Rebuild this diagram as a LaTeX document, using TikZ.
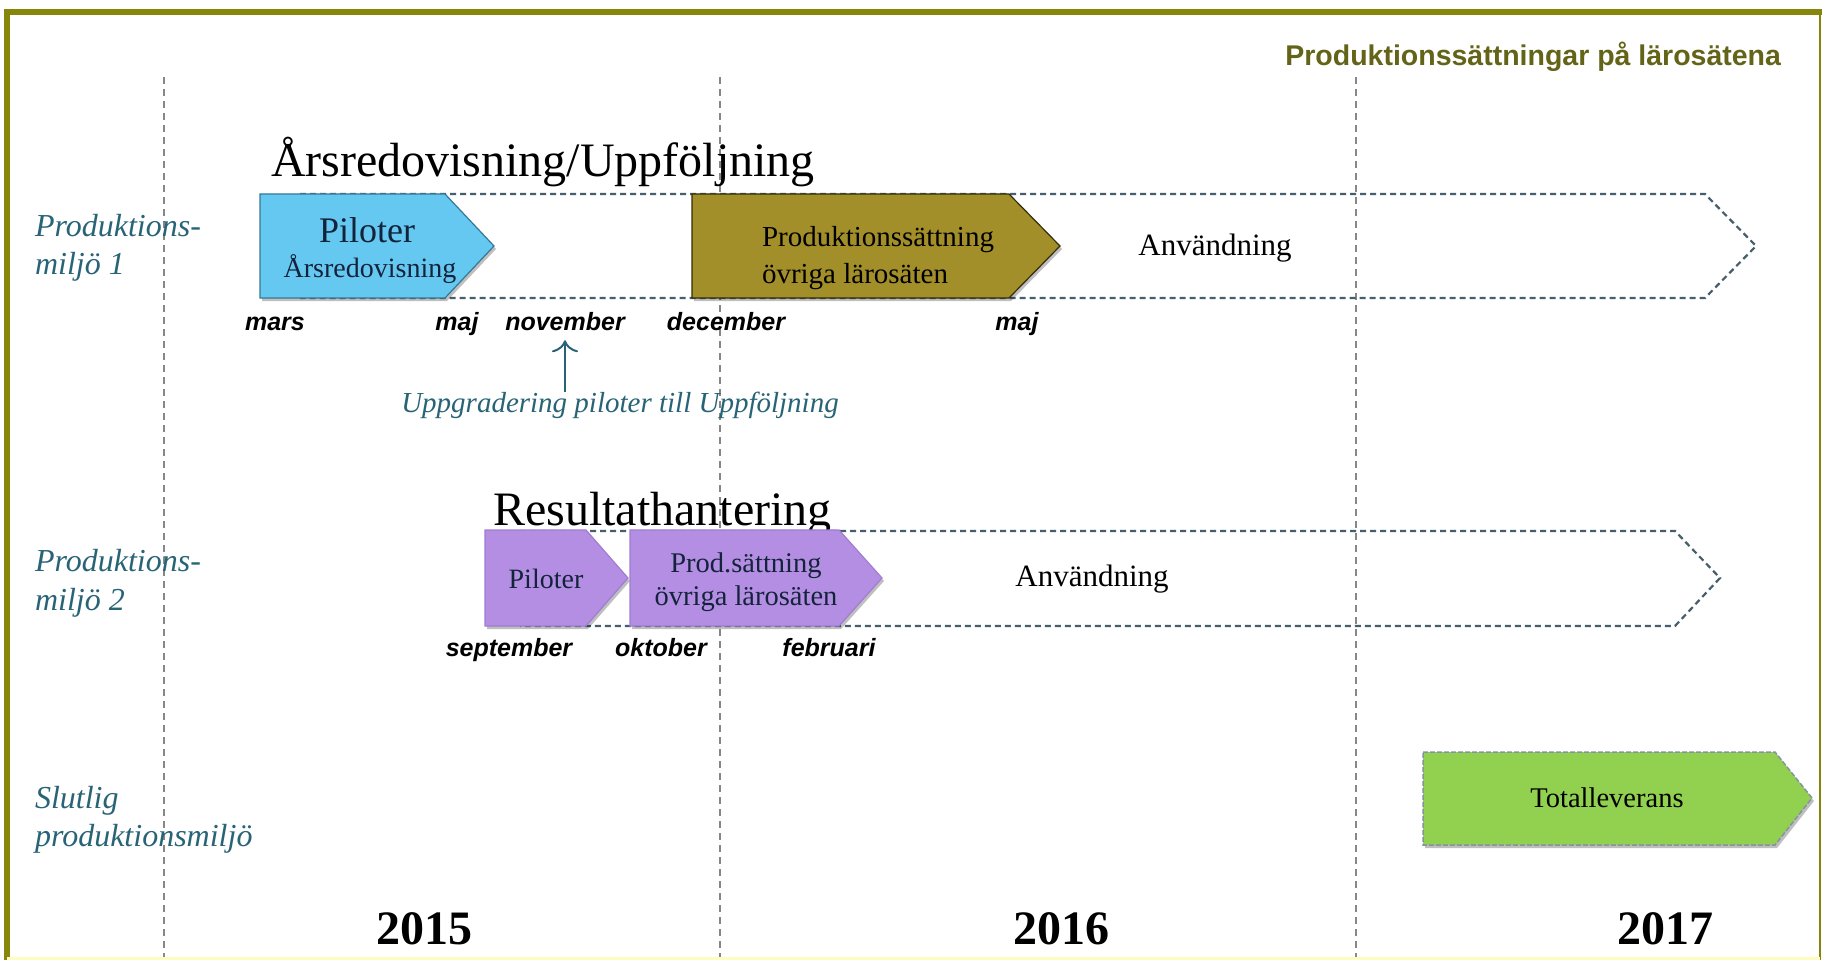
\documentclass[tikz,border=0pt]{standalone}
\usepackage{fontspec}
\setmainfont{Liberation Serif}
\newfontfamily\arial{Liberation Sans}
\usetikzlibrary{shadows,arrows.meta}

\definecolor{frameolive}{RGB}{134,134,10}
\definecolor{titleolive}{RGB}{100,100,25}
\definecolor{boxblue}{RGB}{100,200,240}
\definecolor{boxblueedge}{RGB}{55,120,150}
\definecolor{boxolive}{RGB}{162,143,42}
\definecolor{boxoliveedge}{RGB}{50,45,10}
\definecolor{boxpurple}{RGB}{180,142,226}
\definecolor{boxpurpleedge}{RGB}{160,125,210}
\definecolor{boxgreen}{RGB}{146,208,80}
\definecolor{greenedge}{RGB}{135,145,165}
\definecolor{outlinegray}{RGB}{70,95,108}
\definecolor{gridgray}{RGB}{135,135,135}
\definecolor{tealtext}{RGB}{40,100,118}
\definecolor{navytext}{RGB}{20,35,60}

\begin{document}
\begin{tikzpicture}[x=1pt,y=-1pt,
  fsz/.style={font=\fontsize{#1}{#1}\selectfont},
  plain/.style={inner sep=0pt, outer sep=0pt},
  month/.style={plain, anchor=base, font=\arial\bfseries\itshape\fontsize{25}{25}\selectfont},
  rowlabel/.style={plain, anchor=base west, text=tealtext, font=\itshape\fontsize{32}{32}\selectfont},
  heading/.style={plain, anchor=base west, font=\fontsize{48}{48}\selectfont},
  year/.style={plain, anchor=base, font=\bfseries\fontsize{48}{48}\selectfont},
  boxtext/.style={plain, anchor=base, text=navytext},
  gridline/.style={gridgray, line width=1.3pt, dash pattern=on 7pt off 5pt},
  outlinearrow/.style={outlinegray, line width=2.2pt, dash pattern=on 6pt off 4pt, line join=miter},
  shade/.style={drop shadow={shadow xshift=2pt, shadow yshift=-3pt, opacity=0.25, fill=black}},
  bluebox/.style={fill=boxblue, draw=boxblueedge, line width=1.2pt, shade},
  olivebox/.style={fill=boxolive, draw=boxoliveedge, line width=1.2pt, shade},
  purplebox/.style={fill=boxpurple, draw=boxpurpleedge, line width=1.2pt, shade},
  greenbox/.style={fill=boxgreen, draw=greenedge, line width=1.5pt, dash pattern=on 5pt off 2pt, shade},
  pointer/.style={draw=tealtext, line width=2pt, -{To[length=12pt,width=26pt,line width=2pt]}}
]
\useasboundingbox (0,0) rectangle (1822,960);
\fill[white] (0,0) rectangle (1822,960);

% vertical year separators
\draw[gridline] (164,77) -- (164,960);
\draw[gridline] (720,77) -- (720,960);
\draw[gridline] (1356,77) -- (1356,960);

% header
\node[plain, anchor=base east, text=titleolive, font=\arial\bfseries\fontsize{28.5}{28.5}\selectfont] (hdr) at (1781,66) {Produktionssättningar på lärosätena};

% row labels
\node[rowlabel] (pm1a) at (35,236) {Produktions-};
\node[rowlabel] (pm1b) at (35,274) {miljö 1};
\node[rowlabel] (pm2a) at (35,571) {Produktions-};
\node[rowlabel] (pm2b) at (35,610) {miljö 2};
\node[rowlabel] (slua) at (35,808) {Slutlig};
\node[rowlabel] (slub) at (35,846) {produktionsmiljö};

% ---- row 1
\node[heading] (ars) at (271,177) {Årsredovisning/Uppföljning};
\draw[outlinearrow] (300,194) -- (1705,194) -- (1756,246) -- (1705,298) -- (300,298);
\path[bluebox] (260,194) -- (445,194) -- (494,246) -- (445,298) -- (260,298) -- cycle;
\node[boxtext, fsz=36] (pil1) at (367,242) {Piloter};
\node[boxtext, fsz=28] (pil1b) at (370,277) {Årsredovisning};
\path[olivebox] (692,194) -- (1009,194) -- (1060,246) -- (1009,298) -- (692,298) -- cycle;
\node[plain, anchor=base west, fsz=29] (prod1a) at (762,246) {Produktionssättning};
\node[plain, anchor=base west, fsz=29] (prod1b) at (762,283) {övriga lärosäten};
\node[plain, fsz=31] (anv1) at (1215,248) {Användning};

\node[month] (mars) at (275,330) {mars};
\node[month] (maj1) at (457,330) {maj};
\node[month] (nov) at (565,330) {november};
\node[month] (dec) at (726,330) {december};
\node[month] (maj2) at (1017,330) {maj};

\node[plain, anchor=base, text=tealtext, font=\itshape\fontsize{29}{29}\selectfont] (upg) at (620,412) {Uppgradering piloter till Uppföljning};
\draw[pointer] (nov.south |- upg.north) -- ([yshift=-10pt]nov.south);

% ---- row 2
\node[heading] (res) at (493,525) {Resultathantering};
\draw[outlinearrow] (520,531) -- (1675,531) -- (1720,578) -- (1675,626) -- (520,626);
\path[purplebox] (485,530) -- (586,530) -- (628,578) -- (586,626) -- (485,626) -- cycle;
\node[boxtext, fsz=28] (pil2) at (546,588) {Piloter};
\path[purplebox] (630,530) -- (839,530) -- (882,578) -- (839,626) -- (630,626) -- cycle;
\node[boxtext, fsz=28.5] (prod2a) at (746,572) {Prod.sättning};
\node[boxtext, fsz=28.5] (prod2b) at (746,605) {övriga lärosäten};
\node[plain, fsz=31] (anv2) at (1092,579) {Användning};

\node[month] (sep) at (509,656) {september};
\node[month] (okt) at (661,656) {oktober};
\node[month] (feb) at (829,656) {februari};

% ---- row 3
\path[greenbox] (1423,752) -- (1775,752) -- (1812,798) -- (1775,845) -- (1423,845) -- cycle;
\node[plain, fsz=28.5] (tot) at (1607,798) {Totalleverans};

% years
\node[year] (y15) at (424,944) {2015};
\node[year] (y16) at (1061,944) {2016};
\node[year] (y17) at (1665,944) {2017};

% frame
\draw[frameolive, line width=6pt] (4,12) -- (1822,12);
\draw[frameolive, line width=6pt] (7,9) -- (7,960);
\draw[frameolive, line width=2pt] (1820,12) -- (1820,960);
\draw[yellow!25!white, line width=3pt] (7,958) -- (1820,958);
\end{tikzpicture}
\end{document}
